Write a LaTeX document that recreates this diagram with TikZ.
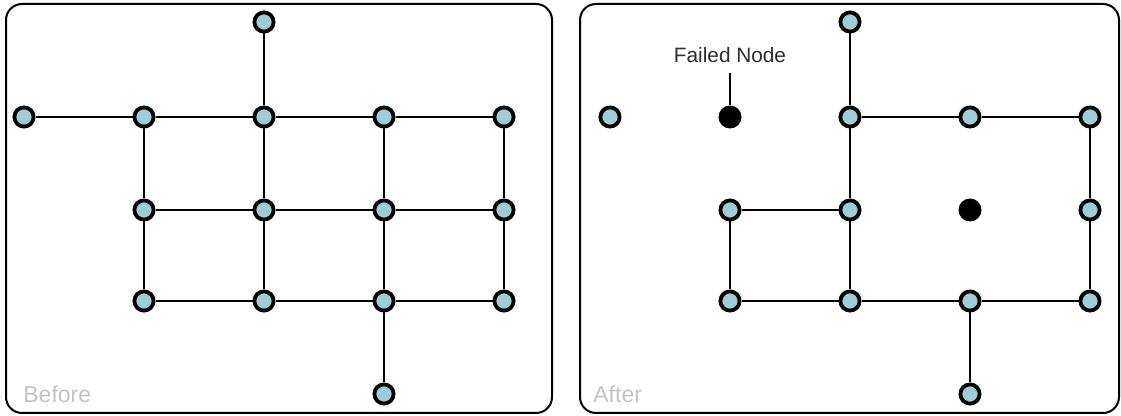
\documentclass[tikz,border=0pt]{standalone}
\usepackage{fontspec}
\setmainfont{Liberation Sans}
\usetikzlibrary{positioning}
\definecolor{nodoazul}{RGB}{160,205,211}
\definecolor{grisrotulo}{RGB}{195,195,195}
\definecolor{textooscuro}{RGB}{45,45,45}

\begin{document}
\begin{tikzpicture}[x=0.5pt,y=-0.5pt,
		nodo/.style={circle, draw=black, line width=1.9pt, fill=nodoazul, minimum size=9.6pt, inner sep=0pt},
		caido/.style={circle, fill=black, minimum size=11.5pt, inner sep=0pt},
		enlace/.style={line width=1pt},
		marco/.style={line width=1pt, rounded corners=8pt},
		rotulo/.style={text=grisrotulo, font=\fontsize{11.5}{13}\selectfont, anchor=base west, inner sep=0pt}]
		\useasboundingbox (0,0) rectangle (1121,416);
		
		% Marcos
		\draw[marco] (6,4) rectangle (552,413);
		\draw[marco] (580,4) rectangle (1119,413);
		
		% Antes
		\foreach \c/\r in {3/1,1/2,2/2,3/2,4/2,5/2,2/3,3/3,4/3,5/3,2/4,3/4,4/4,5/4,4/5} {
			\pgfmathsetmacro{\px}{24+120*(\c-1)}
			\pgfmathsetmacro{\py}{{22,117,210,301,394}[\r-1]}
			\node[nodo] (a-\c-\r) at (\px,\py) {};
		}
		\foreach \u/\v in {1-2/2-2,2-2/3-2,3-2/4-2,4-2/5-2,3-1/3-2,
			2-2/2-3,2-3/2-4,3-2/3-3,3-3/3-4,4-2/4-3,4-3/4-4,4-4/4-5,5-2/5-3,5-3/5-4,
			2-3/3-3,3-3/4-3,4-3/5-3,2-4/3-4,3-4/4-4,4-4/5-4}
			\draw[enlace] (a-\u) -- (a-\v);
		
		% Despues
		\foreach \c/\r/\tipo in {1/2/nodo,2/2/caido,3/1/nodo,3/2/nodo,4/2/nodo,5/2/nodo,2/3/nodo,3/3/nodo,4/3/caido,5/3/nodo,2/4/nodo,3/4/nodo,4/4/nodo,5/4/nodo,4/5/nodo} {
			\pgfmathsetmacro{\px}{610+120*(\c-1)}
			\pgfmathsetmacro{\py}{{22,117,210,301,394}[\r-1]}
			\node[\tipo] (b-\c-\r) at (\px,\py) {};
		}
		\foreach \u/\v in {3-1/3-2,3-2/3-3,3-3/3-4,3-2/4-2,4-2/5-2,5-2/5-3,5-3/5-4,
			2-3/3-3,2-3/2-4,2-4/3-4,3-4/4-4,4-4/5-4,4-4/4-5}
			\draw[enlace] (b-\u) -- (b-\v);
		
		% Nodo caido
		\node[text=textooscuro, font=\fontsize{10.4}{12}\selectfont, inner sep=5pt, above=16pt of b-2-2] (fallo) {Failed Node};
		\draw[enlace] (fallo) -- (b-2-2);
		
		\node[rotulo] (antes) at (23,403) {Before};
		\node[rotulo] (despues) at (593,403) {After};
	\end{tikzpicture}
\end{document}
